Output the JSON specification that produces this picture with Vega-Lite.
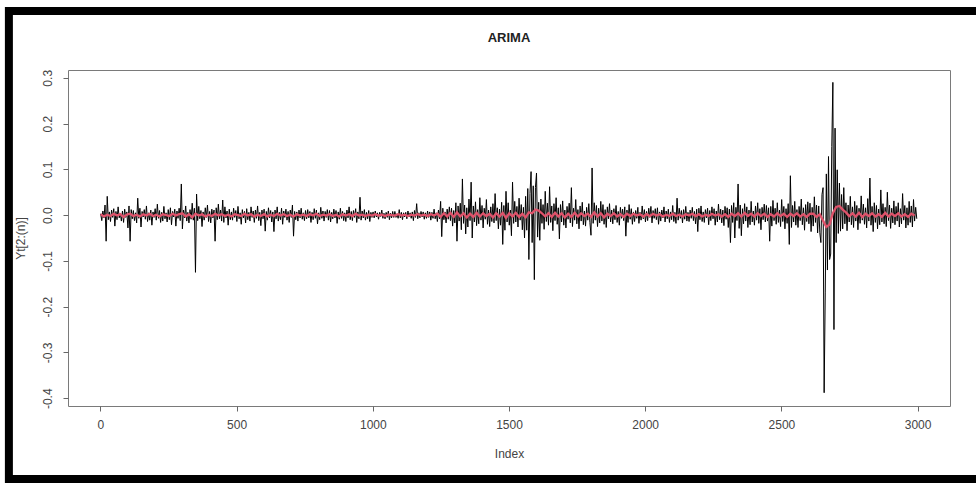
{
"$schema":"https://vega.github.io/schema/vega-lite/v6.json",
"width":882,"height":336,
"autosize":"none",
"padding":{"left":68,"top":70,"right":26,"bottom":77},
"background":"white",
"config":{"view":{"stroke":"#7a7a7a","strokeWidth":1},"font":"Liberation Sans"},
"title":{"text":"ARIMA","fontSize":13,"fontWeight":"bold","font":"Liberation Sans","color":"#222222","offset":-38,"anchor":"middle","frame":"group"},
"datasets":{
"obs":[
{"i":1,"v":0.003},{"i":5,"v":-0.012},{"i":9,"v":0.009},{"i":13,"v":-0.006},{"i":17,"v":0.022},{"i":21,"v":-0.057},{"i":25,"v":0.041},{"i":29,"v":-0.01},{"i":33,"v":0.007},{"i":37,"v":-0.014},
{"i":41,"v":0.011},{"i":45,"v":-0.005},{"i":49,"v":0.014},{"i":53,"v":-0.024},{"i":57,"v":0.008},{"i":61,"v":-0.01},{"i":65,"v":0.018},{"i":69,"v":-0.006},{"i":73,"v":0.004},{"i":77,"v":-0.013},
{"i":81,"v":0.009},{"i":85,"v":-0.016},{"i":89,"v":0.013},{"i":93,"v":-0.005},{"i":97,"v":0.007},{"i":101,"v":-0.028},{"i":105,"v":0.02},{"i":109,"v":-0.057},{"i":113,"v":0.012},{"i":117,"v":-0.008},
{"i":121,"v":0.01},{"i":125,"v":-0.012},{"i":129,"v":0.005},{"i":133,"v":-0.017},{"i":137,"v":0.037},{"i":141,"v":-0.007},{"i":145,"v":0.015},{"i":149,"v":-0.026},{"i":153,"v":0.008},{"i":157,"v":-0.004},
{"i":161,"v":0.012},{"i":165,"v":-0.009},{"i":169,"v":0.02},{"i":173,"v":-0.014},{"i":177,"v":0.005},{"i":181,"v":-0.011},{"i":185,"v":0.011},{"i":189,"v":-0.022},{"i":193,"v":0.007},{"i":197,"v":-0.005},
{"i":201,"v":0.014},{"i":205,"v":-0.011},{"i":209,"v":0.024},{"i":213,"v":-0.007},{"i":217,"v":0.01},{"i":221,"v":-0.016},{"i":225,"v":0.006},{"i":229,"v":-0.013},{"i":233,"v":0.019},{"i":237,"v":-0.008},
{"i":241,"v":0.005},{"i":245,"v":-0.015},{"i":249,"v":0.012},{"i":253,"v":-0.01},{"i":257,"v":0.016},{"i":261,"v":-0.021},{"i":265,"v":0.008},{"i":269,"v":-0.004},{"i":273,"v":0.013},{"i":277,"v":-0.024},
{"i":281,"v":0.009},{"i":285,"v":-0.007},{"i":289,"v":0.015},{"i":293,"v":-0.012},{"i":297,"v":0.068},{"i":301,"v":-0.03},{"i":305,"v":0.011},{"i":309,"v":-0.006},{"i":313,"v":0.02},{"i":317,"v":-0.013},
{"i":321,"v":0.006},{"i":325,"v":-0.017},{"i":329,"v":0.012},{"i":333,"v":-0.009},{"i":337,"v":0.026},{"i":341,"v":-0.011},{"i":345,"v":0.015},{"i":349,"v":-0.125},{"i":353,"v":0.046},{"i":357,"v":-0.012},
{"i":361,"v":0.019},{"i":365,"v":-0.008},{"i":369,"v":0.01},{"i":373,"v":-0.025},{"i":377,"v":0.007},{"i":381,"v":-0.011},{"i":385,"v":0.016},{"i":389,"v":-0.005},{"i":393,"v":0.022},{"i":397,"v":-0.014},
{"i":401,"v":0.008},{"i":405,"v":-0.017},{"i":409,"v":0.013},{"i":413,"v":-0.006},{"i":417,"v":0.011},{"i":421,"v":-0.057},{"i":425,"v":0.016},{"i":429,"v":-0.01},{"i":433,"v":0.024},{"i":437,"v":-0.008},
{"i":441,"v":0.011},{"i":445,"v":-0.013},{"i":449,"v":0.033},{"i":453,"v":-0.016},{"i":457,"v":0.018},{"i":461,"v":-0.006},{"i":465,"v":0.009},{"i":469,"v":-0.022},{"i":473,"v":0.013},{"i":477,"v":-0.01},
{"i":481,"v":0.007},{"i":485,"v":-0.011},{"i":489,"v":0.015},{"i":493,"v":-0.005},{"i":497,"v":0.01},{"i":501,"v":-0.014},{"i":505,"v":0.019},{"i":509,"v":-0.008},{"i":513,"v":0.005},{"i":517,"v":-0.02},
{"i":521,"v":0.012},{"i":525,"v":-0.006},{"i":529,"v":0.008},{"i":533,"v":-0.017},{"i":537,"v":0.014},{"i":541,"v":-0.01},{"i":545,"v":0.006},{"i":549,"v":-0.013},{"i":553,"v":0.018},{"i":557,"v":-0.005},
{"i":561,"v":0.009},{"i":565,"v":-0.016},{"i":569,"v":0.011},{"i":573,"v":-0.007},{"i":577,"v":0.02},{"i":581,"v":-0.012},{"i":585,"v":0.006},{"i":589,"v":-0.023},{"i":593,"v":0.011},{"i":597,"v":-0.008},
{"i":601,"v":0.013},{"i":605,"v":-0.035},{"i":609,"v":0.008},{"i":613,"v":-0.011},{"i":617,"v":0.016},{"i":621,"v":-0.006},{"i":625,"v":0.01},{"i":629,"v":-0.015},{"i":633,"v":0.007},{"i":637,"v":-0.036},
{"i":641,"v":0.011},{"i":645,"v":-0.008},{"i":649,"v":0.018},{"i":653,"v":-0.013},{"i":657,"v":0.006},{"i":661,"v":-0.01},{"i":665,"v":0.015},{"i":669,"v":-0.02},{"i":673,"v":0.009},{"i":677,"v":-0.005},
{"i":681,"v":0.013},{"i":685,"v":-0.011},{"i":689,"v":0.008},{"i":693,"v":-0.016},{"i":697,"v":0.011},{"i":701,"v":-0.005},{"i":705,"v":0.022},{"i":709,"v":-0.046},{"i":713,"v":0.008},{"i":717,"v":-0.01},
{"i":721,"v":0.007},{"i":725,"v":-0.013},{"i":729,"v":0.011},{"i":733,"v":-0.006},{"i":737,"v":0.015},{"i":741,"v":-0.009},{"i":745,"v":0.005},{"i":749,"v":-0.012},{"i":753,"v":0.01},{"i":757,"v":-0.008},
{"i":761,"v":0.012},{"i":765,"v":-0.006},{"i":769,"v":0.008},{"i":773,"v":-0.016},{"i":777,"v":0.006},{"i":781,"v":-0.01},{"i":785,"v":0.014},{"i":789,"v":-0.007},{"i":793,"v":0.011},{"i":797,"v":-0.019},
{"i":801,"v":0.005},{"i":805,"v":-0.01},{"i":809,"v":0.017},{"i":813,"v":-0.007},{"i":817,"v":0.009},{"i":821,"v":-0.013},{"i":825,"v":0.008},{"i":829,"v":-0.005},{"i":833,"v":0.012},{"i":837,"v":-0.011},
{"i":841,"v":0.01},{"i":845,"v":-0.015},{"i":849,"v":0.006},{"i":853,"v":-0.008},{"i":857,"v":0.013},{"i":861,"v":-0.006},{"i":865,"v":0.01},{"i":869,"v":-0.018},{"i":873,"v":0.007},{"i":877,"v":-0.009},
{"i":881,"v":0.015},{"i":885,"v":-0.007},{"i":889,"v":0.008},{"i":893,"v":-0.012},{"i":897,"v":0.005},{"i":901,"v":-0.014},{"i":905,"v":0.011},{"i":909,"v":-0.006},{"i":913,"v":0.018},{"i":917,"v":-0.01},
{"i":921,"v":0.008},{"i":925,"v":-0.012},{"i":929,"v":0.01},{"i":933,"v":-0.005},{"i":937,"v":0.014},{"i":941,"v":-0.016},{"i":945,"v":0.007},{"i":949,"v":-0.008},{"i":953,"v":0.039},{"i":957,"v":-0.011},
{"i":961,"v":0.009},{"i":965,"v":-0.006},{"i":969,"v":0.012},{"i":973,"v":-0.011},{"i":977,"v":0.006},{"i":981,"v":-0.008},{"i":985,"v":0.01},{"i":989,"v":-0.014},{"i":993,"v":0.006},{"i":997,"v":-0.005},
{"i":1001,"v":0.007},{"i":1005,"v":-0.006},{"i":1009,"v":0.009},{"i":1013,"v":-0.004},{"i":1017,"v":0.005},{"i":1021,"v":-0.009},{"i":1025,"v":0.006},{"i":1029,"v":-0.003},{"i":1033,"v":0.011},{"i":1037,"v":-0.007},
{"i":1041,"v":0.004},{"i":1045,"v":-0.008},{"i":1049,"v":0.006},{"i":1053,"v":-0.005},{"i":1057,"v":0.009},{"i":1061,"v":-0.01},{"i":1065,"v":0.004},{"i":1069,"v":-0.006},{"i":1073,"v":0.008},{"i":1077,"v":-0.005},
{"i":1081,"v":0.008},{"i":1085,"v":-0.005},{"i":1089,"v":0.003},{"i":1093,"v":-0.007},{"i":1097,"v":0.012},{"i":1101,"v":-0.006},{"i":1105,"v":0.006},{"i":1109,"v":-0.01},{"i":1113,"v":0.005},{"i":1117,"v":-0.004},
{"i":1121,"v":0.006},{"i":1125,"v":-0.008},{"i":1129,"v":0.009},{"i":1133,"v":-0.004},{"i":1137,"v":0.005},{"i":1141,"v":-0.007},{"i":1145,"v":0.007},{"i":1149,"v":-0.012},{"i":1153,"v":0.01},{"i":1157,"v":-0.005},
{"i":1161,"v":0.025},{"i":1165,"v":-0.008},{"i":1169,"v":0.005},{"i":1173,"v":-0.006},{"i":1177,"v":0.008},{"i":1181,"v":-0.004},{"i":1185,"v":0.007},{"i":1189,"v":-0.009},{"i":1193,"v":0.005},{"i":1197,"v":-0.007},
{"i":1201,"v":0.009},{"i":1205,"v":-0.005},{"i":1209,"v":0.007},{"i":1213,"v":-0.011},{"i":1217,"v":0.006},{"i":1221,"v":-0.007},{"i":1225,"v":0.013},{"i":1229,"v":-0.008},{"i":1233,"v":0.005},{"i":1237,"v":-0.014},
{"i":1241,"v":0.011},{"i":1245,"v":-0.008},{"i":1249,"v":0.03},{"i":1253,"v":-0.047},{"i":1257,"v":0.015},{"i":1261,"v":-0.01},{"i":1265,"v":0.007},{"i":1269,"v":-0.017},{"i":1273,"v":0.013},{"i":1277,"v":-0.009},
{"i":1281,"v":0.018},{"i":1285,"v":-0.012},{"i":1289,"v":0.015},{"i":1293,"v":-0.024},{"i":1297,"v":0.01},{"i":1301,"v":-0.017},{"i":1305,"v":0.027},{"i":1309,"v":-0.057},{"i":1313,"v":0.02},{"i":1317,"v":-0.013},
{"i":1321,"v":0.026},{"i":1325,"v":-0.032},{"i":1329,"v":0.079},{"i":1333,"v":-0.018},{"i":1337,"v":0.022},{"i":1341,"v":-0.041},{"i":1345,"v":0.016},{"i":1349,"v":-0.026},{"i":1353,"v":0.035},{"i":1357,"v":-0.012},
{"i":1361,"v":0.072},{"i":1365,"v":-0.05},{"i":1369,"v":0.02},{"i":1373,"v":-0.015},{"i":1377,"v":0.029},{"i":1381,"v":-0.023},{"i":1385,"v":0.012},{"i":1389,"v":-0.019},{"i":1393,"v":0.038},{"i":1397,"v":-0.011},
{"i":1401,"v":0.021},{"i":1405,"v":-0.028},{"i":1409,"v":0.015},{"i":1413,"v":-0.009},{"i":1417,"v":0.034},{"i":1421,"v":-0.02},{"i":1425,"v":0.011},{"i":1429,"v":-0.025},{"i":1433,"v":0.018},{"i":1437,"v":-0.014},
{"i":1441,"v":0.025},{"i":1445,"v":-0.017},{"i":1449,"v":0.047},{"i":1453,"v":-0.012},{"i":1457,"v":0.016},{"i":1461,"v":-0.03},{"i":1465,"v":0.013},{"i":1469,"v":-0.022},{"i":1473,"v":0.028},{"i":1477,"v":-0.064},
{"i":1481,"v":0.021},{"i":1485,"v":-0.033},{"i":1489,"v":0.052},{"i":1493,"v":-0.015},{"i":1497,"v":0.027},{"i":1501,"v":-0.022},{"i":1505,"v":0.011},{"i":1509,"v":-0.045},{"i":1513,"v":0.072},{"i":1517,"v":-0.018},
{"i":1521,"v":0.03},{"i":1525,"v":-0.015},{"i":1529,"v":0.019},{"i":1533,"v":-0.026},{"i":1537,"v":0.037},{"i":1541,"v":-0.011},{"i":1545,"v":0.023},{"i":1549,"v":-0.032},{"i":1553,"v":0.017},{"i":1557,"v":-0.05},
{"i":1561,"v":0.041},{"i":1565,"v":-0.033},{"i":1569,"v":0.058},{"i":1573,"v":-0.097},{"i":1577,"v":0.047},{"i":1581,"v":0.095},{"i":1585,"v":-0.06},{"i":1589,"v":0.064},{"i":1593,"v":-0.141},{"i":1597,"v":0.06},
{"i":1601,"v":0.092},{"i":1605,"v":-0.048},{"i":1609,"v":0.028},{"i":1613,"v":-0.055},{"i":1617,"v":0.035},{"i":1621,"v":-0.018},{"i":1625,"v":0.023},{"i":1629,"v":-0.031},{"i":1633,"v":0.052},{"i":1637,"v":-0.014},
{"i":1641,"v":0.026},{"i":1645,"v":-0.022},{"i":1649,"v":0.062},{"i":1653,"v":-0.016},{"i":1657,"v":0.02},{"i":1661,"v":-0.034},{"i":1665,"v":0.025},{"i":1669,"v":-0.012},{"i":1673,"v":0.038},{"i":1677,"v":-0.02},
{"i":1681,"v":0.016},{"i":1685,"v":-0.052},{"i":1689,"v":0.023},{"i":1693,"v":-0.015},{"i":1697,"v":0.031},{"i":1701,"v":-0.022},{"i":1705,"v":0.011},{"i":1709,"v":-0.028},{"i":1713,"v":0.019},{"i":1717,"v":-0.009},
{"i":1721,"v":0.026},{"i":1725,"v":-0.017},{"i":1729,"v":0.06},{"i":1733,"v":-0.025},{"i":1737,"v":0.015},{"i":1741,"v":-0.011},{"i":1745,"v":0.034},{"i":1749,"v":-0.019},{"i":1753,"v":0.012},{"i":1757,"v":-0.03},
{"i":1761,"v":0.02},{"i":1765,"v":-0.013},{"i":1769,"v":0.028},{"i":1773,"v":-0.021},{"i":1777,"v":0.009},{"i":1781,"v":-0.024},{"i":1785,"v":0.017},{"i":1789,"v":-0.011},{"i":1793,"v":0.025},{"i":1797,"v":-0.016},
{"i":1801,"v":-0.044},{"i":1805,"v":0.103},{"i":1809,"v":-0.018},{"i":1813,"v":0.027},{"i":1817,"v":-0.011},{"i":1821,"v":0.021},{"i":1825,"v":-0.025},{"i":1829,"v":0.015},{"i":1833,"v":-0.017},{"i":1837,"v":0.03},
{"i":1841,"v":-0.013},{"i":1845,"v":0.023},{"i":1849,"v":-0.02},{"i":1853,"v":0.012},{"i":1857,"v":-0.027},{"i":1861,"v":0.018},{"i":1865,"v":-0.008},{"i":1869,"v":0.025},{"i":1873,"v":-0.015},{"i":1877,"v":0.011},
{"i":1881,"v":-0.019},{"i":1885,"v":0.014},{"i":1889,"v":-0.01},{"i":1893,"v":0.021},{"i":1897,"v":-0.016},{"i":1901,"v":0.008},{"i":1905,"v":-0.022},{"i":1909,"v":0.017},{"i":1913,"v":-0.007},{"i":1917,"v":0.013},
{"i":1921,"v":-0.012},{"i":1925,"v":0.018},{"i":1929,"v":-0.046},{"i":1933,"v":0.011},{"i":1937,"v":-0.016},{"i":1941,"v":0.023},{"i":1945,"v":-0.009},{"i":1949,"v":0.014},{"i":1953,"v":-0.02},{"i":1957,"v":0.007},
{"i":1961,"v":-0.014},{"i":1965,"v":0.01},{"i":1969,"v":-0.007},{"i":1973,"v":0.017},{"i":1977,"v":-0.018},{"i":1981,"v":0.006},{"i":1985,"v":-0.011},{"i":1989,"v":0.02},{"i":1993,"v":-0.008},{"i":1997,"v":0.012},
{"i":2001,"v":-0.015},{"i":2005,"v":0.008},{"i":2009,"v":-0.012},{"i":2013,"v":0.015},{"i":2017,"v":-0.005},{"i":2021,"v":0.019},{"i":2025,"v":-0.017},{"i":2029,"v":0.01},{"i":2033,"v":-0.007},{"i":2037,"v":0.014},
{"i":2041,"v":-0.01},{"i":2045,"v":0.016},{"i":2049,"v":-0.02},{"i":2053,"v":0.007},{"i":2057,"v":-0.013},{"i":2061,"v":0.011},{"i":2065,"v":-0.006},{"i":2069,"v":0.018},{"i":2073,"v":-0.015},{"i":2077,"v":0.009},
{"i":2081,"v":-0.008},{"i":2085,"v":0.013},{"i":2089,"v":-0.016},{"i":2093,"v":0.007},{"i":2097,"v":-0.01},{"i":2101,"v":0.021},{"i":2105,"v":-0.014},{"i":2109,"v":0.006},{"i":2113,"v":-0.018},{"i":2117,"v":0.037},
{"i":2121,"v":-0.011},{"i":2125,"v":0.015},{"i":2129,"v":-0.007},{"i":2133,"v":0.01},{"i":2137,"v":-0.017},{"i":2141,"v":0.012},{"i":2145,"v":-0.009},{"i":2149,"v":0.019},{"i":2153,"v":-0.013},{"i":2157,"v":0.006},
{"i":2161,"v":-0.014},{"i":2165,"v":0.011},{"i":2169,"v":-0.007},{"i":2173,"v":0.017},{"i":2177,"v":-0.012},{"i":2181,"v":0.008},{"i":2185,"v":-0.019},{"i":2189,"v":0.013},{"i":2193,"v":-0.036},{"i":2197,"v":0.015},
{"i":2201,"v":-0.01},{"i":2205,"v":0.02},{"i":2209,"v":-0.014},{"i":2213,"v":0.007},{"i":2217,"v":-0.016},{"i":2221,"v":0.012},{"i":2225,"v":-0.006},{"i":2229,"v":0.015},{"i":2233,"v":-0.021},{"i":2237,"v":0.01},
{"i":2241,"v":-0.012},{"i":2245,"v":0.018},{"i":2249,"v":-0.008},{"i":2253,"v":0.014},{"i":2257,"v":-0.022},{"i":2261,"v":0.009},{"i":2265,"v":-0.015},{"i":2269,"v":0.024},{"i":2273,"v":-0.01},{"i":2277,"v":0.013},
{"i":2281,"v":-0.017},{"i":2285,"v":0.011},{"i":2289,"v":-0.023},{"i":2293,"v":0.019},{"i":2297,"v":-0.009},{"i":2301,"v":0.016},{"i":2305,"v":-0.027},{"i":2309,"v":0.013},{"i":2313,"v":-0.06},{"i":2317,"v":0.021},
{"i":2321,"v":-0.016},{"i":2325,"v":0.027},{"i":2329,"v":-0.05},{"i":2333,"v":0.017},{"i":2337,"v":-0.012},{"i":2341,"v":0.068},{"i":2345,"v":-0.029},{"i":2349,"v":0.022},{"i":2353,"v":-0.045},{"i":2357,"v":0.014},
{"i":2361,"v":-0.019},{"i":2365,"v":0.025},{"i":2369,"v":-0.013},{"i":2373,"v":0.018},{"i":2377,"v":-0.027},{"i":2381,"v":0.011},{"i":2385,"v":-0.021},{"i":2389,"v":0.03},{"i":2393,"v":-0.015},{"i":2397,"v":0.009},
{"i":2401,"v":-0.022},{"i":2405,"v":0.02},{"i":2409,"v":-0.011},{"i":2413,"v":0.027},{"i":2417,"v":-0.018},{"i":2421,"v":0.014},{"i":2425,"v":-0.032},{"i":2429,"v":0.017},{"i":2433,"v":-0.01},{"i":2437,"v":0.024},
{"i":2441,"v":-0.015},{"i":2445,"v":0.021},{"i":2449,"v":-0.013},{"i":2453,"v":0.016},{"i":2457,"v":-0.057},{"i":2461,"v":0.019},{"i":2465,"v":-0.024},{"i":2469,"v":0.032},{"i":2473,"v":-0.012},{"i":2477,"v":0.015},
{"i":2481,"v":-0.02},{"i":2485,"v":0.027},{"i":2489,"v":-0.016},{"i":2493,"v":0.011},{"i":2497,"v":-0.025},{"i":2501,"v":0.034},{"i":2505,"v":-0.014},{"i":2509,"v":0.019},{"i":2513,"v":-0.03},{"i":2517,"v":0.014},
{"i":2521,"v":-0.018},{"i":2525,"v":0.025},{"i":2529,"v":-0.064},{"i":2533,"v":0.086},{"i":2537,"v":-0.027},{"i":2541,"v":0.021},{"i":2545,"v":-0.015},{"i":2549,"v":0.03},{"i":2553,"v":-0.022},{"i":2557,"v":0.012},
{"i":2561,"v":-0.027},{"i":2565,"v":0.019},{"i":2569,"v":-0.012},{"i":2573,"v":0.035},{"i":2577,"v":-0.021},{"i":2581,"v":0.016},{"i":2585,"v":-0.033},{"i":2589,"v":0.023},{"i":2593,"v":-0.014},{"i":2597,"v":0.029},
{"i":2601,"v":-0.019},{"i":2605,"v":0.026},{"i":2609,"v":-0.036},{"i":2613,"v":0.017},{"i":2617,"v":-0.024},{"i":2621,"v":0.04},{"i":2625,"v":-0.016},{"i":2629,"v":0.022},{"i":2633,"v":-0.039},{"i":2637,"v":0.02},
{"i":2641,"v":-0.038},{"i":2645,"v":-0.06},{"i":2649,"v":0.045},{"i":2653,"v":0.06},{"i":2657,"v":-0.388},{"i":2661,"v":-0.17},{"i":2665,"v":0.09},{"i":2669,"v":-0.12},{"i":2673,"v":0.128},{"i":2677,"v":-0.097},
{"i":2681,"v":-0.085},{"i":2685,"v":0.15},{"i":2689,"v":0.29},{"i":2693,"v":-0.25},{"i":2697,"v":0.19},{"i":2701,"v":-0.06},{"i":2705,"v":0.099},{"i":2709,"v":-0.04},{"i":2713,"v":0.07},{"i":2717,"v":-0.035},
{"i":2721,"v":0.045},{"i":2725,"v":-0.03},{"i":2729,"v":0.06},{"i":2733,"v":-0.019},{"i":2737,"v":0.027},{"i":2741,"v":-0.034},{"i":2745,"v":0.022},{"i":2749,"v":-0.015},{"i":2753,"v":0.041},{"i":2757,"v":-0.021},
{"i":2761,"v":0.018},{"i":2765,"v":-0.027},{"i":2769,"v":0.03},{"i":2773,"v":-0.013},{"i":2777,"v":0.021},{"i":2781,"v":-0.032},{"i":2785,"v":0.015},{"i":2789,"v":-0.018},{"i":2793,"v":0.042},{"i":2797,"v":-0.011},
{"i":2801,"v":0.024},{"i":2805,"v":-0.02},{"i":2809,"v":0.016},{"i":2813,"v":-0.028},{"i":2817,"v":0.036},{"i":2821,"v":-0.013},{"i":2825,"v":0.081},{"i":2829,"v":-0.022},{"i":2833,"v":0.019},{"i":2837,"v":-0.036},
{"i":2841,"v":0.027},{"i":2845,"v":-0.016},{"i":2849,"v":0.021},{"i":2853,"v":-0.03},{"i":2857,"v":0.013},{"i":2861,"v":-0.021},{"i":2865,"v":0.055},{"i":2869,"v":-0.015},{"i":2873,"v":0.025},{"i":2877,"v":-0.019},
{"i":2881,"v":0.017},{"i":2885,"v":-0.025},{"i":2889,"v":0.05},{"i":2893,"v":-0.012},{"i":2897,"v":0.022},{"i":2901,"v":-0.029},{"i":2905,"v":0.015},{"i":2909,"v":-0.017},{"i":2913,"v":0.031},{"i":2917,"v":-0.021},
{"i":2921,"v":0.019},{"i":2925,"v":-0.013},{"i":2929,"v":0.027},{"i":2933,"v":-0.026},{"i":2937,"v":0.014},{"i":2941,"v":-0.019},{"i":2945,"v":0.047},{"i":2949,"v":-0.011},{"i":2953,"v":0.021},{"i":2957,"v":-0.028},
{"i":2961,"v":0.016},{"i":2965,"v":-0.022},{"i":2969,"v":0.03},{"i":2973,"v":-0.016},{"i":2977,"v":0.02},{"i":2981,"v":-0.026},{"i":2985,"v":0.034},{"i":2989,"v":-0.013},{"i":2993,"v":0.017},{"i":2997,"v":-0.008}
],
"fit":[
{"i":1,"f":0.002},{"i":13,"f":-0.003},{"i":25,"f":0.001},{"i":37,"f":-0.002},{"i":49,"f":0.003},{"i":61,"f":-0.001},{"i":73,"f":0.002},{"i":85,"f":-0.004},{"i":97,"f":0.001},{"i":109,"f":0.003},{"i":121,"f":-0.002},{"i":133,"f":0.001},{"i":145,"f":-0.003},{"i":157,"f":0.002},{"i":169,"f":-0.001},{"i":181,"f":0.003},{"i":193,"f":-0.002},{"i":205,"f":0.001},{"i":217,"f":-0.003},{"i":229,"f":0.002},{"i":241,"f":0},{"i":253,"f":-0.002},{"i":265,"f":0.003},{"i":277,"f":-0.001},{"i":289,"f":0.002},
{"i":301,"f":0.004},{"i":313,"f":-0.003},{"i":325,"f":0.002},{"i":337,"f":-0.005},{"i":349,"f":0.003},{"i":361,"f":-0.001},{"i":373,"f":0.002},{"i":385,"f":-0.003},{"i":397,"f":0.001},{"i":409,"f":-0.002},{"i":421,"f":0.003},{"i":433,"f":-0.001},{"i":445,"f":0.002},{"i":457,"f":-0.002},{"i":469,"f":0.001},{"i":481,"f":-0.003},{"i":493,"f":0.002},{"i":505,"f":0},{"i":517,"f":-0.002},{"i":529,"f":0.003},{"i":541,"f":-0.001},{"i":553,"f":0.002},{"i":565,"f":-0.003},{"i":577,"f":0.001},{"i":589,"f":-0.002},
{"i":601,"f":0.002},{"i":613,"f":-0.003},{"i":625,"f":0.001},{"i":637,"f":-0.002},{"i":649,"f":0.003},{"i":661,"f":-0.001},{"i":673,"f":0.002},{"i":685,"f":-0.002},{"i":697,"f":0.001},{"i":709,"f":-0.003},{"i":721,"f":0.002},{"i":733,"f":-0.001},{"i":745,"f":0.001},{"i":757,"f":-0.002},{"i":769,"f":0.002},{"i":781,"f":-0.001},{"i":793,"f":0.003},{"i":805,"f":-0.002},{"i":817,"f":0.001},{"i":829,"f":-0.001},{"i":841,"f":0.002},{"i":853,"f":-0.002},{"i":865,"f":0.001},{"i":877,"f":-0.003},{"i":889,"f":0.002},
{"i":901,"f":-0.001},{"i":913,"f":0.002},{"i":925,"f":-0.002},{"i":937,"f":0.003},{"i":949,"f":-0.001},{"i":961,"f":0.001},{"i":973,"f":-0.002},{"i":985,"f":0.001},{"i":997,"f":-0.001},{"i":1009,"f":0.002},{"i":1021,"f":-0.001},{"i":1033,"f":0.001},{"i":1045,"f":-0.002},{"i":1057,"f":0.001},{"i":1069,"f":0},{"i":1081,"f":-0.001},{"i":1093,"f":0.002},{"i":1105,"f":-0.001},{"i":1117,"f":0.001},{"i":1129,"f":-0.002},{"i":1141,"f":0.001},{"i":1153,"f":-0.001},{"i":1165,"f":0.002},{"i":1177,"f":-0.001},{"i":1189,"f":0.001},
{"i":1201,"f":-0.002},{"i":1213,"f":0.002},{"i":1225,"f":-0.001},{"i":1237,"f":0.003},{"i":1249,"f":-0.004},{"i":1261,"f":0.004},{"i":1273,"f":-0.003},{"i":1285,"f":0.005},{"i":1297,"f":-0.004},{"i":1309,"f":0.006},{"i":1321,"f":-0.003},{"i":1333,"f":0.004},{"i":1345,"f":-0.005},{"i":1357,"f":0.003},{"i":1369,"f":-0.004},{"i":1381,"f":0.005},{"i":1393,"f":-0.003},{"i":1405,"f":0.004},{"i":1417,"f":-0.002},{"i":1429,"f":0.003},{"i":1441,"f":-0.005},{"i":1453,"f":0.004},{"i":1465,"f":-0.003},{"i":1477,"f":0.005},{"i":1489,"f":-0.006},
{"i":1501,"f":0.004},{"i":1513,"f":-0.003},{"i":1525,"f":0.005},{"i":1537,"f":-0.004},{"i":1549,"f":0.003},{"i":1561,"f":-0.005},{"i":1573,"f":0.006},{"i":1585,"f":0.004},{"i":1597,"f":0.012},{"i":1609,"f":0.01},{"i":1621,"f":0.004},{"i":1633,"f":-0.003},{"i":1645,"f":0.004},{"i":1657,"f":-0.004},{"i":1669,"f":0.005},{"i":1681,"f":-0.003},{"i":1693,"f":0.004},{"i":1705,"f":-0.005},{"i":1717,"f":0.003},{"i":1729,"f":-0.004},{"i":1741,"f":0.005},{"i":1753,"f":-0.003},{"i":1765,"f":0.004},{"i":1777,"f":-0.002},{"i":1789,"f":0.003},
{"i":1801,"f":-0.004},{"i":1813,"f":0.006},{"i":1825,"f":-0.003},{"i":1837,"f":0.004},{"i":1849,"f":-0.005},{"i":1861,"f":0.003},{"i":1873,"f":-0.002},{"i":1885,"f":0.004},{"i":1897,"f":-0.003},{"i":1909,"f":0.002},{"i":1921,"f":-0.004},{"i":1933,"f":0.003},{"i":1945,"f":-0.002},{"i":1957,"f":0.003},{"i":1969,"f":-0.001},{"i":1981,"f":0.002},{"i":1993,"f":-0.003},{"i":2005,"f":0.002},{"i":2017,"f":-0.002},{"i":2029,"f":0.003},{"i":2041,"f":-0.001},{"i":2053,"f":0.002},{"i":2065,"f":-0.003},{"i":2077,"f":0.001},{"i":2089,"f":-0.002},
{"i":2101,"f":0.003},{"i":2113,"f":-0.002},{"i":2125,"f":0.001},{"i":2137,"f":-0.003},{"i":2149,"f":0.002},{"i":2161,"f":-0.001},{"i":2173,"f":0.003},{"i":2185,"f":-0.002},{"i":2197,"f":0.002},{"i":2209,"f":-0.003},{"i":2221,"f":0.001},{"i":2233,"f":-0.002},{"i":2245,"f":0.003},{"i":2257,"f":-0.001},{"i":2269,"f":0.002},{"i":2281,"f":-0.003},{"i":2293,"f":0.002},{"i":2305,"f":-0.004},{"i":2317,"f":0.003},{"i":2329,"f":-0.002},{"i":2341,"f":0.004},{"i":2353,"f":-0.003},{"i":2365,"f":0.005},{"i":2377,"f":-0.002},{"i":2389,"f":0.003},
{"i":2401,"f":-0.003},{"i":2413,"f":0.004},{"i":2425,"f":-0.002},{"i":2437,"f":0.003},{"i":2449,"f":-0.004},{"i":2461,"f":0.002},{"i":2473,"f":-0.003},{"i":2485,"f":0.004},{"i":2497,"f":-0.002},{"i":2509,"f":0.003},{"i":2521,"f":-0.004},{"i":2533,"f":0.003},{"i":2545,"f":-0.002},{"i":2557,"f":0.004},{"i":2569,"f":-0.003},{"i":2581,"f":0.002},{"i":2593,"f":-0.004},{"i":2605,"f":0.003},{"i":2617,"f":0.003},{"i":2629,"f":-0.004},{"i":2641,"f":0.002},{"i":2653,"f":-0.012},{"i":2665,"f":-0.026},{"i":2677,"f":-0.02},{"i":2689,"f":0.004},
{"i":2701,"f":0.018},{"i":2713,"f":0.02},{"i":2725,"f":0.012},{"i":2737,"f":0.006},{"i":2749,"f":-0.002},{"i":2761,"f":0.004},{"i":2773,"f":-0.003},{"i":2785,"f":0.005},{"i":2797,"f":-0.004},{"i":2809,"f":0.003},{"i":2821,"f":-0.002},{"i":2833,"f":0.004},{"i":2845,"f":-0.003},{"i":2857,"f":0.002},{"i":2869,"f":-0.004},{"i":2881,"f":0.005},{"i":2893,"f":-0.003},{"i":2905,"f":0.003},{"i":2917,"f":-0.002},{"i":2929,"f":0.004},{"i":2941,"f":-0.003},{"i":2953,"f":0.002},{"i":2965,"f":-0.004},{"i":2977,"f":0.003},{"i":2989,"f":-0.001}
]
},
"layer":[
{
"data":{"name":"obs"},
"mark":{"type":"line","color":"#000000","strokeWidth":1,"clip":true},
"encoding":{
"x":{"field":"i","type":"quantitative","scale":{"domain":[-119,3119],"nice":false,"zero":false},
"axis":{"values":[0,500,1000,1500,2000,2500,3000],"format":"d","title":"Index","grid":false,"domain":false,"ticks":true,"tickColor":"#666666","tickSize":5,"labelFont":"Liberation Sans","labelFontSize":12,"labelColor":"#444444","labelPadding":8,"titleFont":"Liberation Sans","titleFontSize":12,"titleFontWeight":"normal","titleColor":"#444444","titlePadding":18}},
"y":{"field":"v","type":"quantitative","scale":{"domain":[-0.417,0.317],"nice":false,"zero":false},
"axis":{"values":[-0.4,-0.3,-0.2,-0.1,0,0.1,0.2,0.3],"labelExpr":"replace(format(datum.value,'.1f'),'\u2212','-')","title":"Yt[2:(n)]","grid":false,"domain":false,"tickColor":"#666666","tickSize":5,"labelAngle":-90,"labelAlign":"center","labelBaseline":"bottom","labelFont":"Liberation Sans","labelFontSize":12,"labelColor":"#444444","labelPadding":9,"titleFont":"Liberation Sans","titleFontSize":12,"titleFontWeight":"normal","titleColor":"#444444","titlePadding":14}}
}
},
{
"data":{"name":"fit"},
"mark":{"type":"line","color":"#DF536B","strokeWidth":2.3,"clip":true},
"encoding":{"x":{"field":"i","type":"quantitative"},"y":{"field":"f","type":"quantitative"}}
},
{
"data":{"values":[{}]},
"mark":{"type":"rect","fill":null,"fillOpacity":0,"stroke":"#000000","strokeWidth":8,"clip":false},
"encoding":{"x":{"datum":-336},"x2":{"datum":3300},"y":{"datum":0.446},"y2":{"datum":-0.5765}}
}
]
}
